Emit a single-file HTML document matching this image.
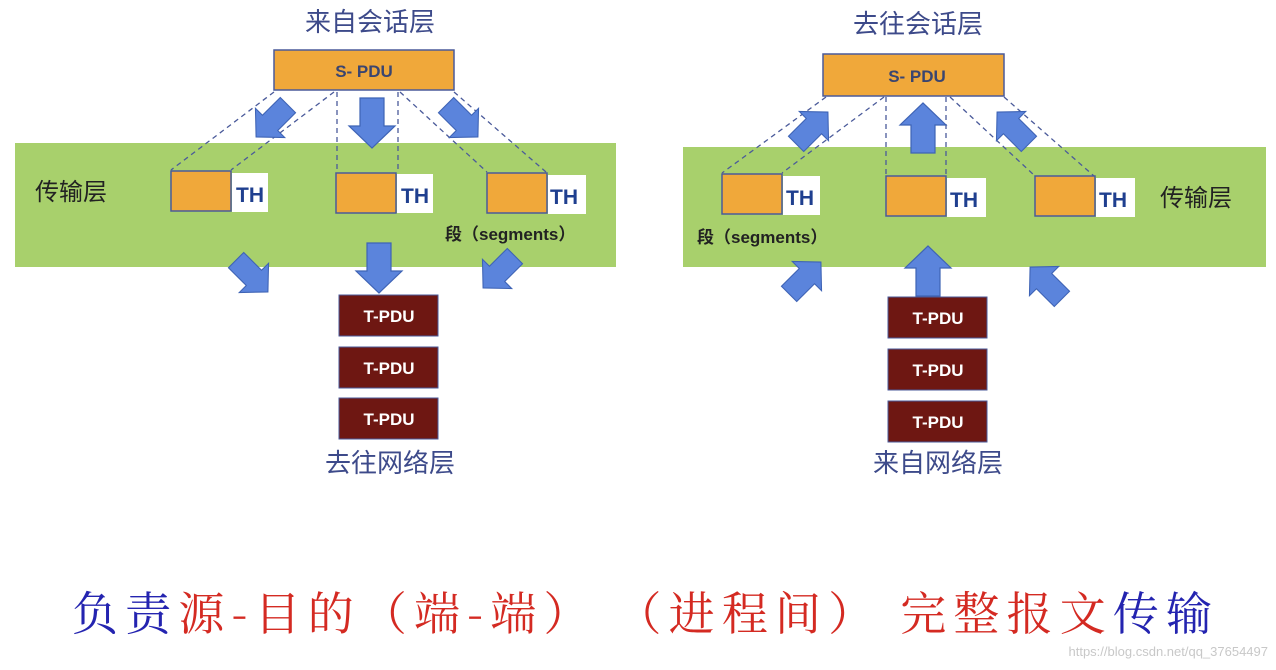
<!DOCTYPE html>
<html><head><meta charset="utf-8"><style>
html,body{margin:0;padding:0;background:#fff;}
svg{display:block;}
.cj{font-family:"Liberation Sans","Noto Sans CJK SC",sans-serif;}
.b{font-family:"Liberation Sans","Noto Sans CJK SC",sans-serif;font-weight:bold;}
</style></head><body>
<svg width="1276" height="670" viewBox="0 0 1276 670" xmlns="http://www.w3.org/2000/svg">
<defs>
<path id="ar" d="M-12,-25 L12,-25 L12,3 L23,3 L0,25 L-23,3 L-12,3 Z" fill="#5b84dc" stroke="#3e63b5" stroke-width="1.2"/>
</defs>
<!-- LEFT -->
<text x="370" y="31" text-anchor="middle" class="cj" font-size="26" fill="#3d4a8a">来自会话层</text>
<rect x="15" y="143" width="601" height="124" fill="#a8d06c"/>
<rect x="274" y="50" width="180" height="40" fill="#f0a83a" stroke="#4a5a9a" stroke-width="1.5"/>
<text x="364" y="77" text-anchor="middle" class="b" font-size="17" fill="#3a4570">S- PDU</text>
<g stroke="#4a5a9a" stroke-width="1.3" stroke-dasharray="5,4" fill="none">
<line x1="274" y1="92" x2="171" y2="170"/><line x1="334" y1="92" x2="231" y2="170"/>
<line x1="337" y1="92" x2="337" y2="172"/><line x1="398" y1="92" x2="398" y2="172"/>
<line x1="400" y1="92" x2="487" y2="172"/><line x1="454" y1="92" x2="546" y2="172"/>
</g>
<text x="35" y="200" class="cj" font-size="24" fill="#222">传输层</text>
<rect x="171" y="171" width="60" height="40" fill="#f0a83a" stroke="#4a5a9a" stroke-width="1.5"/>
<rect x="232" y="173" width="36" height="39" fill="#fff"/><text x="236" y="202" class="b" font-size="21" fill="#1f3f8f">TH</text>
<rect x="336" y="173" width="60" height="40" fill="#f0a83a" stroke="#4a5a9a" stroke-width="1.5"/>
<rect x="397" y="174" width="36" height="39" fill="#fff"/><text x="401" y="203" class="b" font-size="21" fill="#1f3f8f">TH</text>
<rect x="487" y="173" width="60" height="40" fill="#f0a83a" stroke="#4a5a9a" stroke-width="1.5"/>
<rect x="548" y="175" width="38" height="39" fill="#fff"/><text x="550" y="204" class="b" font-size="21" fill="#1f3f8f">TH</text>
<text x="445" y="240" class="b" font-size="17" fill="#222">段（segments）</text>
<use href="#ar" transform="translate(272,121) rotate(45) scale(0.9)"/>
<use href="#ar" transform="translate(372,123)"/>
<use href="#ar" transform="translate(462,121) rotate(-45) scale(0.9)"/>
<use href="#ar" transform="translate(252,276) rotate(-45) scale(0.9)"/>
<use href="#ar" transform="translate(379,268)"/>
<use href="#ar" transform="translate(499,272) rotate(45) scale(0.9)"/>
<g class="b" font-size="17" fill="#fff" text-anchor="middle">
<rect x="339" y="295" width="99" height="41" fill="#6e1712" stroke="#4a5a9a"/><text x="389" y="322">T-PDU</text>
<rect x="339" y="347" width="99" height="41" fill="#6e1712" stroke="#4a5a9a"/><text x="389" y="374">T-PDU</text>
<rect x="339" y="398" width="99" height="41" fill="#6e1712" stroke="#4a5a9a"/><text x="389" y="425">T-PDU</text>
</g>
<text x="390" y="472" text-anchor="middle" class="cj" font-size="26" fill="#3d4a8a">去往网络层</text>
<!-- RIGHT -->
<text x="918" y="33" text-anchor="middle" class="cj" font-size="26" fill="#3d4a8a">去往会话层</text>
<rect x="683" y="147" width="583" height="120" fill="#a8d06c"/>
<rect x="823" y="54" width="181" height="42" fill="#f0a83a" stroke="#4a5a9a" stroke-width="1.5"/>
<text x="917" y="82" text-anchor="middle" class="b" font-size="17" fill="#3a4570">S- PDU</text>
<g stroke="#4a5a9a" stroke-width="1.3" stroke-dasharray="5,4" fill="none">
<line x1="826" y1="97" x2="722" y2="173"/><line x1="884" y1="97" x2="782" y2="173"/>
<line x1="886" y1="97" x2="886" y2="176"/><line x1="946" y1="97" x2="946" y2="176"/>
<line x1="950" y1="97" x2="1035" y2="176"/><line x1="1004" y1="97" x2="1094" y2="176"/>
</g>
<rect x="722" y="174" width="60" height="40" fill="#f0a83a" stroke="#4a5a9a" stroke-width="1.5"/>
<rect x="783" y="176" width="37" height="39" fill="#fff"/><text x="786" y="205" class="b" font-size="21" fill="#1f3f8f">TH</text>
<rect x="886" y="176" width="60" height="40" fill="#f0a83a" stroke="#4a5a9a" stroke-width="1.5"/>
<rect x="947" y="178" width="39" height="39" fill="#fff"/><text x="950" y="207" class="b" font-size="21" fill="#1f3f8f">TH</text>
<rect x="1035" y="176" width="60" height="40" fill="#f0a83a" stroke="#4a5a9a" stroke-width="1.5"/>
<rect x="1096" y="178" width="39" height="39" fill="#fff"/><text x="1099" y="207" class="b" font-size="21" fill="#1f3f8f">TH</text>
<text x="1160" y="206" class="cj" font-size="24" fill="#222">传输层</text>
<text x="697" y="243" class="b" font-size="17" fill="#222">段（segments）</text>
<use href="#ar" transform="translate(812,128) rotate(225) scale(0.9)"/>
<use href="#ar" transform="translate(923,128) rotate(180)"/>
<use href="#ar" transform="translate(1013,128) rotate(135) scale(0.9)"/>
<use href="#ar" transform="translate(805,278) rotate(225) scale(0.9)"/>
<use href="#ar" transform="translate(928,271) rotate(180)"/>
<use href="#ar" transform="translate(1046,283) rotate(135) scale(0.9)"/>
<g class="b" font-size="17" fill="#fff" text-anchor="middle">
<rect x="888" y="297" width="99" height="41" fill="#6e1712" stroke="#4a5a9a"/><text x="938" y="324">T-PDU</text>
<rect x="888" y="349" width="99" height="41" fill="#6e1712" stroke="#4a5a9a"/><text x="938" y="376">T-PDU</text>
<rect x="888" y="401" width="99" height="41" fill="#6e1712" stroke="#4a5a9a"/><text x="938" y="428">T-PDU</text>
</g>
<text x="938" y="472" text-anchor="middle" class="cj" font-size="26" fill="#3d4a8a">来自网络层</text>
<!-- bottom -->
<text x="72" y="630" font-family="'Noto Serif CJK SC','Noto Sans CJK SC',serif" font-size="46" textLength="1140" lengthAdjust="spacing"><tspan fill="#2424b0">负责</tspan><tspan fill="#d42a22">源-目的（端-端） （进程间） 完整报文</tspan><tspan fill="#2424b0">传输</tspan></text>
<text x="1268" y="656" text-anchor="end" font-family="'Liberation Sans',sans-serif" font-size="13" fill="#c8c8c8">https://blog.csdn.net/qq_37654497</text>
</svg>
</body></html>
